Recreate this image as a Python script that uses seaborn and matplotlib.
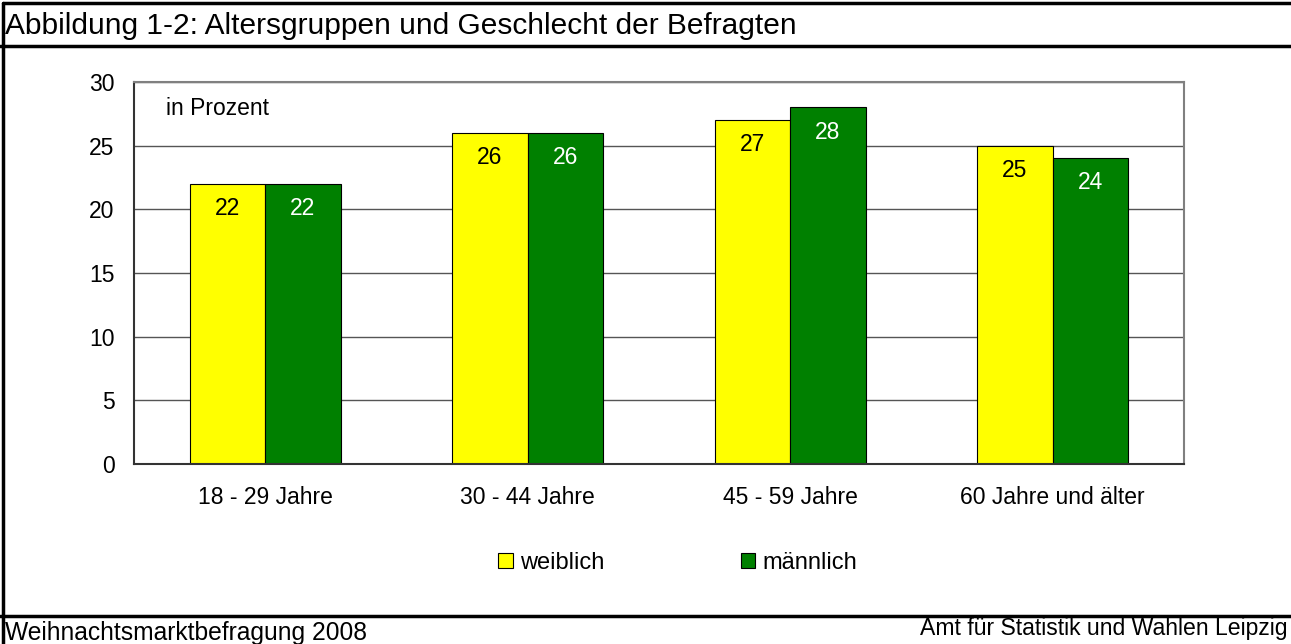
import matplotlib
matplotlib.use("Agg")
import matplotlib.pyplot as plt
import pandas as pd
import seaborn as sns
from matplotlib.lines import Line2D
from matplotlib.patches import Patch

gruppen = ["18 - 29 Jahre", "30 - 44 Jahre", "45 - 59 Jahre", "60 Jahre und älter"]
weiblich = [22, 26, 27, 25]
maennlich = [22, 26, 28, 24]
geschlechter = ["weiblich", "männlich"]
farben = ["#FFFF00", "#008000"]

df = pd.DataFrame({
    "gruppe": gruppen * 2,
    "wert": weiblich + maennlich,
    "geschlecht": [geschlechter[0]] * 4 + [geschlechter[1]] * 4,
})

sns.set_style("white")
plt.rcParams["font.family"] = ["Liberation Sans", "DejaVu Sans"]
plt.rcParams["font.size"] = 16.5
plt.rcParams["text.color"] = "black"
plt.rcParams["xtick.color"] = "black"
plt.rcParams["ytick.color"] = "black"

fig = plt.figure(figsize=(12.91, 6.44), dpi=100)
ax = fig.add_axes([0.1038, 0.2795, 0.8133, 0.5932])

sns.barplot(data=df, x="gruppe", y="wert", hue="geschlecht", palette=farben,
            saturation=1, width=0.575, edgecolor="black", linewidth=0.8,
            legend=False, ax=ax)

# value labels inside the bar tops
for cont, col in zip(ax.containers, ["black", "white"]):
    ax.bar_label(cont, fmt="%d", padding=-26, color=col, fontsize=16.5)

ax.set_ylim(0, 30)
ax.set_yticks(range(0, 31, 5))
ax.set_xlabel("")
ax.set_ylabel("")
ax.grid(axis="y", color="#555555", linewidth=1)
ax.set_axisbelow(True)
ax.tick_params(axis="both", length=0, labelsize=16.5)
ax.tick_params(axis="x", pad=16)
ax.tick_params(axis="y", pad=14)
for s in ["top", "right"]:
    ax.spines[s].set_color("#808080")
    ax.spines[s].set_linewidth(1.5)
for s in ["left", "bottom"]:
    ax.spines[s].set_color("#333333")
    ax.spines[s].set_linewidth(1.5)

ax.text(0.03, 0.93, "in Prozent", transform=ax.transAxes, fontsize=16.5, va="center")

handles = [Patch(facecolor=c, edgecolor="black", linewidth=0.8) for c in farben]
fig.legend(handles, geschlechter, loc="center", bbox_to_anchor=(0.525, 0.126),
           ncol=2, frameon=False, fontsize=17, handlelength=0.6, handleheight=0.6,
           handletextpad=0.3, columnspacing=5.8)

# frame, title and footer
fig.add_artist(Line2D([0, 1], [1 - 46 / 644, 1 - 46 / 644], color="black", linewidth=2.5,
                      transform=fig.transFigure))
fig.add_artist(Line2D([0, 1], [1 - 616 / 644, 1 - 616 / 644], color="black", linewidth=2.5,
                      transform=fig.transFigure))
fig.add_artist(Line2D([0.002, 0.002], [0, 0.996], color="black", linewidth=2.5,
                      transform=fig.transFigure))
fig.add_artist(Line2D([0.002, 1], [0.996, 0.996], color="black", linewidth=2.5,
                      transform=fig.transFigure))
fig.text(0.004, 1 - 26 / 644, "Abbildung 1-2: Altersgruppen und Geschlecht der Befragten",
         fontsize=21.5, va="center", ha="left")
fig.text(0.004, 1 - 633 / 644, "Weihnachtsmarktbefragung 2008", fontsize=17.7,
         va="center", ha="left")
fig.text(0.997, 1 - 629 / 644, "Amt für Statistik und Wahlen Leipzig", fontsize=16.6,
         va="center", ha="right")

fig.savefig("out.png", dpi=100)
